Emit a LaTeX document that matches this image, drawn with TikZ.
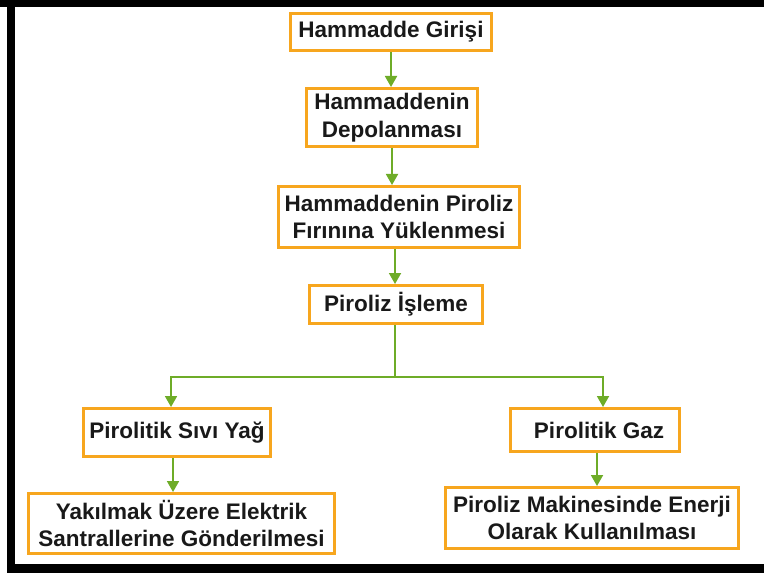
\documentclass[tikz,border=0pt]{standalone}
\usepackage{fontspec}
\setmainfont{Liberation Sans}
\usetikzlibrary{arrows.meta}
\definecolor{boxorange}{RGB}{247,166,30}
\definecolor{flowgreen}{RGB}{110,172,40}
\definecolor{inktext}{RGB}{25,25,25}
\begin{document}
\begin{tikzpicture}[x=1bp,y=-1bp,
  stepbox/.style={draw=boxorange, line width=3bp, fill=white, inner sep=0pt,
    align=center, text=inktext,
    font=\fontsize{22.5bp}{27.5bp}\selectfont\bfseries},
  flow/.style={draw=flowgreen, line width=1.8bp},
  flowarrow/.style={flow, -{Triangle[width=12bp,length=11bp]}, color=flowgreen}]
  % page and frame
  \fill[white] (0,0) rectangle (764,573);
  \useasboundingbox (0,0) rectangle (764,573);
  \fill[black] (0,0) rectangle (764,7);
  \fill[black] (7,0) rectangle (15,573);
  \fill[black] (7,564) rectangle (764,573);

  % process steps
  \node[stepbox, minimum width=201bp, minimum height=37bp] (b1) at (391,32) {Hammadde Girişi};
  \node[stepbox, minimum width=171bp, minimum height=58bp] (b2) at (392,117.5) {Hammaddenin\\Depolanması};
  \node[stepbox, minimum width=241bp, minimum height=61bp] (b3) at (399,217) {Hammaddenin Piroliz\\Fırınına Yüklenmesi};
  \node[stepbox, minimum width=173bp, minimum height=38bp] (b4) at (396,304.5) {Piroliz İşleme};
  \node[stepbox, minimum width=187bp, minimum height=48bp] (b5) at (177,432.5) {Pirolitik Sıvı Yağ};
  \node[stepbox, minimum width=169bp, minimum height=43bp] (b6) at (595,430) {\hspace{8bp}Pirolitik Gaz};
  \node[stepbox, minimum width=306bp, minimum height=60bp] (b7) at (181.5,523.5) {Yakılmak Üzere Elektrik\\Santrallerine Gönderilmesi};
  \node[stepbox, minimum width=293bp, minimum height=61bp] (b8) at (592,518) {Piroliz Makinesinde Enerji\\Olarak Kullanılması};

  % branch points
  \coordinate (j) at (395,377);
  \coordinate (jl) at (171,377);
  \coordinate (jr) at (603,377);

  % connectors
  \draw[flowarrow] (b1.south) -- (b1.south |- b2.north);
  \draw[flowarrow] (b2.south) -- (b2.south |- b3.north);
  \draw[flowarrow] ([xshift=-4bp]b3.south) -- ([xshift=-4bp]b3.south |- b4.north);
  \draw[flow] (b4.south -| j) -- (j);
  \draw[flowarrow] (j) -- (jl) -- (jl |- b5.north);
  \draw[flowarrow] (j) -- (jr) -- (jr |- b6.north);
  \draw[flowarrow] ([xshift=-4bp]b5.south) -- ([xshift=-4bp]b5.south |- b7.north);
  \draw[flowarrow] ([xshift=2bp]b6.south) -- ([xshift=2bp]b6.south |- b8.north);
\end{tikzpicture}
\end{document}
